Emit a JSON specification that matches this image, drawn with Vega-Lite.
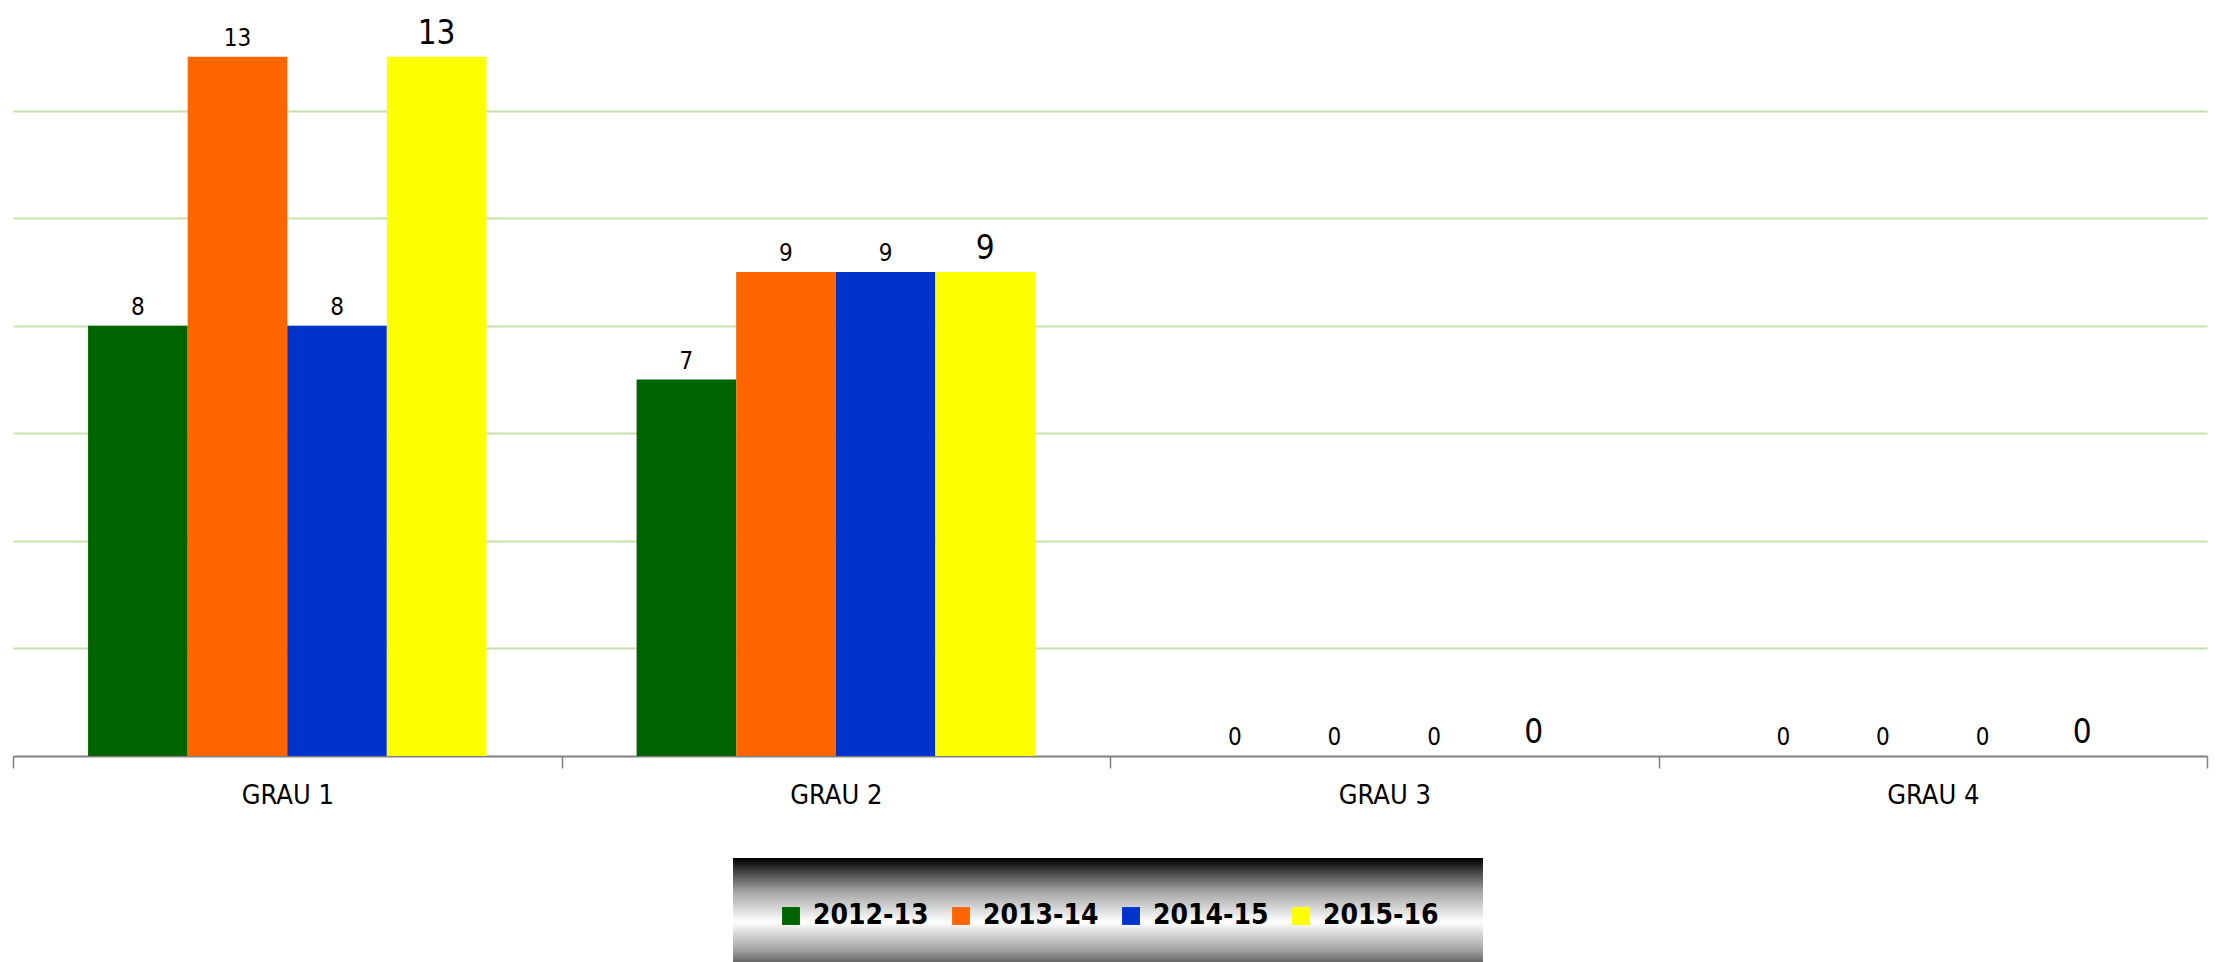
{
  "$schema": "https://vega.github.io/schema/vega-lite/v6.json",
  "width": 2194,
  "height": 753,
  "autosize": {"type": "none"},
  "padding": {"left": 13, "right": 13, "top": 3, "bottom": 206},
  "background": "white",
  "config": {"view": {"stroke": null}, "font": "DejaVu Sans Condensed, Liberation Sans, sans-serif"},
  "data": {"values": [
    {"grau": "GRAU 1", "serie": "2012-13", "valor": 8},
    {"grau": "GRAU 1", "serie": "2013-14", "valor": 13},
    {"grau": "GRAU 1", "serie": "2014-15", "valor": 8},
    {"grau": "GRAU 1", "serie": "2015-16", "valor": 13},
    {"grau": "GRAU 2", "serie": "2012-13", "valor": 7},
    {"grau": "GRAU 2", "serie": "2013-14", "valor": 9},
    {"grau": "GRAU 2", "serie": "2014-15", "valor": 9},
    {"grau": "GRAU 2", "serie": "2015-16", "valor": 9},
    {"grau": "GRAU 3", "serie": "2012-13", "valor": 0},
    {"grau": "GRAU 3", "serie": "2013-14", "valor": 0},
    {"grau": "GRAU 3", "serie": "2014-15", "valor": 0},
    {"grau": "GRAU 3", "serie": "2015-16", "valor": 0},
    {"grau": "GRAU 4", "serie": "2012-13", "valor": 0},
    {"grau": "GRAU 4", "serie": "2013-14", "valor": 0},
    {"grau": "GRAU 4", "serie": "2014-15", "valor": 0},
    {"grau": "GRAU 4", "serie": "2015-16", "valor": 0}
  ]},
  "encoding": {
    "x": {
      "field": "grau", "type": "nominal",
      "scale": {"paddingInner": 0, "paddingOuter": 0},
      "axis": {
        "title": null, "labelAngle": 0, "tickBand": "extent",
        "domainColor": "#808080", "domainWidth": 2, "tickColor": "#808080", "tickWidth": 1.5, "tickSize": 12,
        "labelFontSize": 27, "labelColor": "#000000", "labelPadding": 14,
        "labelFont": "DejaVu Sans Condensed, Liberation Sans, sans-serif"
      }
    },
    "xOffset": {"field": "serie", "type": "nominal", "scale": {"paddingInner": 0, "paddingOuter": 0.754}},
    "y": {
      "field": "valor", "type": "quantitative",
      "scale": {"domain": [0, 14], "nice": false},
      "axis": {"title": null, "domain": false, "ticks": false, "labels": false, "values": [2, 4, 6, 8, 10, 12], "gridColor": "#c6e2a8", "gridWidth": 2}
    }
  },
  "layer": [
    {
      "mark": {"type": "bar"},
      "encoding": {
        "color": {
          "field": "serie", "type": "nominal",
          "scale": {"domain": ["2012-13", "2013-14", "2014-15", "2015-16"], "range": ["#006400", "#FF6600", "#0033CC", "#FFFF00"]},
          "legend": {
            "title": null, "orient": "none", "legendX": 720, "legendY": 855, "direction": "horizontal",
            "symbolType": "square", "symbolSize": 320, "symbolStrokeWidth": 0, "symbolOpacity": 1,
            "labelFontSize": 28, "labelFontWeight": "bold", "labelColor": "#000000",
            "labelFont": "DejaVu Sans Condensed, Liberation Sans, sans-serif",
            "labelOffset": 8, "columnPadding": 18, "padding": 44,
            "encode": {
              "legend": {"update": {"fill": {"value": {"gradient": "linear", "x1": 0, "y1": 0, "x2": 0, "y2": 1,
                "stops": [{"offset": 0, "color": "#000000"}, {"offset": 0.3, "color": "#a8a8a8"}, {"offset": 0.55, "color": "#ffffff"}, {"offset": 0.8, "color": "#a0a0a0"}, {"offset": 1, "color": "#2a2a2a"}]}}}}
            }
          }
        }
      }
    },
    {
      "mark": {"type": "text", "baseline": "bottom", "dy": -6, "color": "#000000", "font": "DejaVu Sans Condensed, Liberation Sans, sans-serif"},
      "encoding": {
        "text": {"field": "valor", "type": "quantitative"},
        "size": {"condition": {"test": "datum.serie === '2015-16'", "value": 33}, "value": 24}
      }
    }
  ]
}
